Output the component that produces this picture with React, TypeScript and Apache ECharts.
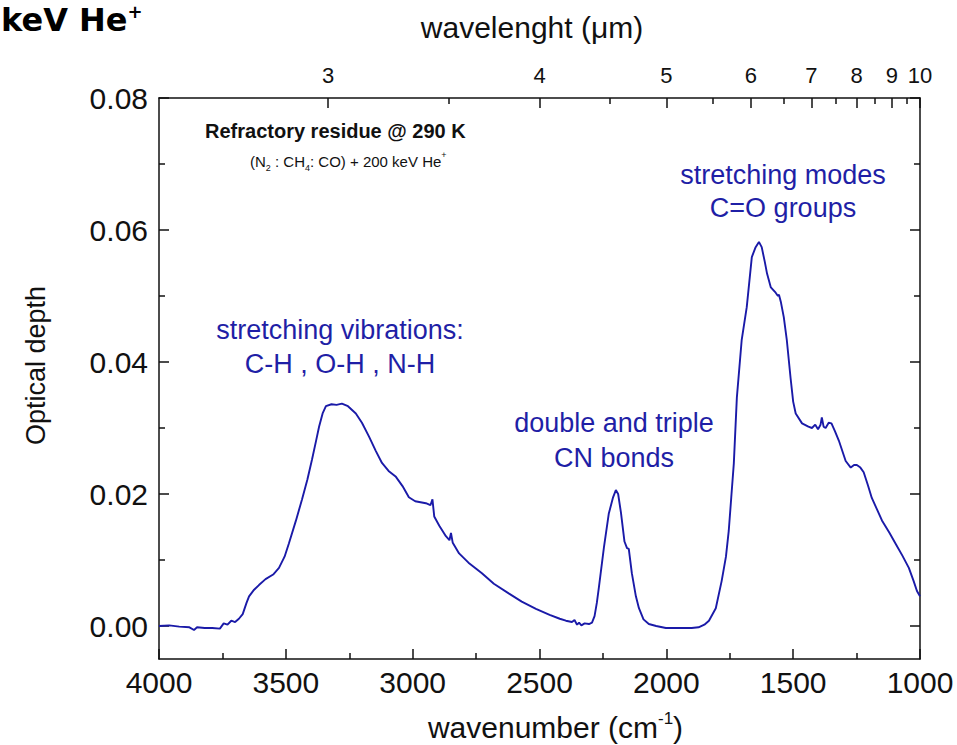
import React, { useEffect, useRef } from "react";
import * as echarts from "echarts";

const wavenumbers = [
  4000, 3960, 3920, 3880, 3862, 3850, 3820, 3790, 3760, 3745, 3730, 3715, 3700, 3685, 3670, 3655, 3645, 3625, 3606, 3580,
  3550, 3527, 3505, 3488, 3460, 3436, 3415, 3397, 3380, 3369, 3355, 3342, 3320, 3300, 3279, 3255, 3224, 3200, 3172, 3145,
  3121, 3095, 3066, 3040, 3015, 2990, 2948, 2930, 2922, 2915, 2895, 2869, 2855, 2849, 2842, 2817, 2780, 2727, 2680, 2620,
  2570, 2514, 2460, 2420, 2396, 2372, 2362, 2352, 2344, 2335, 2322, 2305, 2293, 2283, 2274, 2266, 2246, 2227, 2210, 2199,
  2190, 2179, 2165, 2155, 2148, 2136, 2120, 2108, 2090, 2069, 2040, 2002, 1950, 1900, 1873, 1850, 1832, 1805, 1782, 1765,
  1754, 1744, 1734, 1722, 1703, 1683, 1663, 1648, 1635, 1624, 1612, 1603, 1588, 1569, 1560, 1556, 1548, 1537, 1525, 1510,
  1500, 1490, 1465, 1440, 1426, 1413, 1402, 1392, 1387, 1380, 1372, 1360, 1349, 1335, 1320, 1293, 1273, 1260, 1249, 1235,
  1222, 1205, 1190, 1170, 1150, 1120, 1095, 1070, 1044, 1025, 1012, 1000,
];

const opticalDepth = [
  0.0, 0.0001, -0.0001, -0.0002, -0.0006, -0.0002, -0.0003, -0.0003, -0.0004, 0.0004, 0.0002, 0.0008, 0.0006, 0.0011, 0.0018, 0.0035, 0.0045, 0.0055, 0.0062, 0.0071,
  0.0078, 0.0088, 0.0105, 0.0125, 0.016, 0.0192, 0.0222, 0.0252, 0.0282, 0.0302, 0.0322, 0.0333, 0.0336, 0.0335, 0.0337, 0.0333, 0.0322, 0.0308, 0.0287, 0.0265,
  0.0247, 0.0235, 0.0226, 0.0212, 0.0195, 0.0189, 0.0186, 0.0183, 0.0192, 0.0166, 0.0152, 0.0136, 0.013, 0.0141, 0.0126, 0.011, 0.0096, 0.008, 0.0064, 0.0049,
  0.0037, 0.0026, 0.0017, 0.0011, 0.0008, 0.0006, 0.0009, 0.0002, 0.0005, 0.0001, 0.0004, 0.0003, 0.0005, 0.0015, 0.0035, 0.0058, 0.0119, 0.017, 0.0195, 0.0206,
  0.02, 0.0172, 0.0128, 0.0118, 0.0117, 0.008, 0.0045, 0.0027, 0.001, 0.0003, 0.0, -0.0003, -0.0003, -0.0003, -0.0002, 0.0002, 0.0008, 0.0027, 0.0068, 0.0105,
  0.0144, 0.0195, 0.0246, 0.0346, 0.0433, 0.0483, 0.0559, 0.0574, 0.0582, 0.0574, 0.0552, 0.0534, 0.0513, 0.0505, 0.05, 0.0502, 0.049, 0.0468, 0.0433, 0.0375,
  0.034, 0.0322, 0.0307, 0.0302, 0.03, 0.0305, 0.0298, 0.0305, 0.0316, 0.0302, 0.03, 0.0308, 0.0307, 0.0295, 0.0281, 0.025, 0.024, 0.0244, 0.0244, 0.024,
  0.0233, 0.0213, 0.0194, 0.0177, 0.016, 0.0141, 0.0124, 0.0107, 0.0088, 0.0068, 0.0053, 0.0045,
];

const yMajorTicks = [0, 0.02, 0.04, 0.06, 0.08];
const yMinorTicks = [0.01, 0.03, 0.05, 0.07];
const wavelengthMajor = [3, 4, 5, 6, 7, 8, 9, 10];
const wavelengthMinor = [3.5, 4.5, 5.5, 6.5, 7.5, 8.5, 9.5];

const FONT = "'Liberation Sans', Arial, Helvetica, sans-serif";
const INK = "#111111";
const BLUE = "#1f1fa6";
const LINE_BLUE = "#1a1aa8";

export default function App() {
  const ref = useRef<HTMLDivElement>(null);

  useEffect(() => {
    const chart = echarts.init(ref.current as HTMLDivElement, null, { renderer: "svg" });

    const axisLineStyle = { color: INK, width: 1.5 };
    const xCommon = {
      type: "value",
      min: 1000,
      max: 4000,
      inverse: true,
      splitLine: { show: false },
    };
    const yCommon = {
      type: "value",
      min: -0.005,
      max: 0.08,
      splitLine: { show: false },
    };

    const option: any = {
      animation: false,
      grid: { left: 159, right: 37, top: 98, bottom: 86, containLabel: false, outerBoundsMode: "none" },
      xAxis: [
        {
          ...xCommon,
          position: "bottom",
          interval: 500,
          axisLine: { show: true, onZero: false, lineStyle: axisLineStyle },
          axisTick: { show: true, inside: true, length: 10, lineStyle: axisLineStyle },
          minorTick: { show: true, splitNumber: 2, length: 6, lineStyle: axisLineStyle },
          axisLabel: {
            color: INK,
            fontSize: 30,
            fontFamily: FONT,
            margin: 8,
            formatter: (v: number) => String(v),
          },
          name: "{a|wavenumber (cm}{b|-1}{a|)}",
          nameLocation: "middle",
          nameGap: 51,
          nameTextStyle: {
            padding: [0, 0, 0, 32],
            rich: {
              a: { fontSize: 30, fontFamily: FONT, color: INK, lineHeight: 34 },
              b: { fontSize: 17, fontFamily: FONT, color: INK, lineHeight: 17, verticalAlign: "top" },
            },
          },
        },
        {
          ...xCommon,
          position: "top",
          axisLine: { show: true, onZero: false, lineStyle: axisLineStyle },
          axisTick: {
            show: true,
            inside: true,
            length: 10,
            lineStyle: axisLineStyle,
            customValues: wavelengthMajor.map((w) => 10000 / w),
          },
          axisLabel: {
            show: true,
            color: INK,
            fontSize: 22,
            fontFamily: FONT,
            margin: 12,
            customValues: wavelengthMajor.map((w) => 10000 / w),
            formatter: (v: number) => String(Math.round(10000 / v)),
          },
          name: "wavelenght (\u03bcm)",
          nameLocation: "middle",
          nameGap: 54,
          nameTextStyle: { fontSize: 30, fontFamily: FONT, color: INK, lineHeight: 34, padding: [0, 15, 0, 0] },
        },
        {
          ...xCommon,
          position: "top",
          axisLine: { show: false, onZero: false },
          axisTick: {
            show: true,
            inside: true,
            length: 6,
            lineStyle: axisLineStyle,
            customValues: wavelengthMinor.map((w) => 10000 / w),
          },
          axisLabel: { show: false },
        },
      ],
      yAxis: [
        {
          ...yCommon,
          position: "left",
          axisLine: { show: true, onZero: false, lineStyle: axisLineStyle },
          axisTick: { show: true, inside: true, length: 10, lineStyle: axisLineStyle, customValues: yMajorTicks },
          axisLabel: {
            color: INK,
            fontSize: 30,
            fontFamily: FONT,
            margin: 11,
            customValues: yMajorTicks,
            formatter: (v: number) => v.toFixed(2),
          },
          name: "Optical depth",
          nameLocation: "middle",
          nameGap: 108,
          nameTextStyle: { fontSize: 27, fontFamily: FONT, color: INK, lineHeight: 30, padding: [0, 0, 0, 26] },
        },
        {
          ...yCommon,
          position: "left",
          axisLine: { show: false, onZero: false },
          axisTick: { show: true, inside: true, length: 6, lineStyle: axisLineStyle, customValues: yMinorTicks },
          axisLabel: { show: false },
        },
        {
          ...yCommon,
          position: "right",
          axisLine: { show: true, onZero: false, lineStyle: axisLineStyle },
          axisTick: { show: true, inside: true, length: 10, lineStyle: axisLineStyle, customValues: yMajorTicks },
          axisLabel: { show: false },
        },
        {
          ...yCommon,
          position: "right",
          axisLine: { show: false, onZero: false },
          axisTick: { show: true, inside: true, length: 6, lineStyle: axisLineStyle, customValues: yMinorTicks },
          axisLabel: { show: false },
        },
      ],
      series: [
        {
          type: "line",
          xAxisIndex: 0,
          yAxisIndex: 0,
          showSymbol: false,
          symbol: "none",
          smooth: false,
          lineStyle: { color: LINE_BLUE, width: 1.9 },
          data: wavenumbers.map((w, i) => [w, opticalDepth[i]]),
        },
      ],
      graphic: [
        {
          type: "text",
          x: 1,
          y: 20,
          style: {
            text: "{a|keV He}{b|+}",
            verticalAlign: "middle",
            align: "left",
            rich: {
              a: { fontSize: 32, fontWeight: "bold", fontFamily: "'DejaVu Sans', sans-serif", fill: "#000", lineHeight: 36 },
              b: { fontSize: 18, fontWeight: "bold", fontFamily: "'DejaVu Sans', sans-serif", fill: "#000", lineHeight: 22, verticalAlign: "top" },
            },
          },
        },
        {
          type: "text",
          x: 205,
          y: 131,
          style: {
            text: "Refractory residue @ 290 K",
            fontSize: 20,
            fontWeight: "bold",
            fontFamily: FONT,
            fill: INK,
            align: "left",
            verticalAlign: "middle",
          },
        },
        {
          type: "text",
          x: 250,
          y: 161,
          style: {
            text: "{t|(N}{s|2}{t| : CH}{s|4}{t|: CO) + 200 keV He}{p|+}",
            align: "left",
            verticalAlign: "middle",
            rich: {
              t: { fontSize: 15, fontFamily: FONT, fill: INK, lineHeight: 22 },
              s: { fontSize: 9, fontFamily: FONT, fill: INK, lineHeight: 9, verticalAlign: "bottom" },
              p: { fontSize: 9, fontFamily: FONT, fill: INK, lineHeight: 9, verticalAlign: "top" },
            },
          },
        },
        {
          type: "text",
          x: 783,
          y: 191,
          style: {
            text: "stretching modes\nC=O groups",
            fontSize: 27,
            fontFamily: FONT,
            fill: BLUE,
            lineHeight: 33,
            align: "center",
            verticalAlign: "middle",
          },
        },
        {
          type: "text",
          x: 340,
          y: 347,
          style: {
            text: "stretching vibrations:\nC-H , O-H , N-H",
            fontSize: 27,
            fontFamily: FONT,
            fill: BLUE,
            lineHeight: 34,
            align: "center",
            verticalAlign: "middle",
          },
        },
        {
          type: "text",
          x: 614,
          y: 440,
          style: {
            text: "double and triple\nCN bonds",
            fontSize: 27,
            fontFamily: FONT,
            fill: BLUE,
            lineHeight: 35,
            align: "center",
            verticalAlign: "middle",
          },
        },
      ],
    };

    chart.setOption(option);
    return () => chart.dispose();
  }, []);

  return (
    <div
      ref={ref}
      style={{ position: "absolute", left: 0, top: 0, width: 957, height: 745, background: "#ffffff" }}
    />
  );
}
